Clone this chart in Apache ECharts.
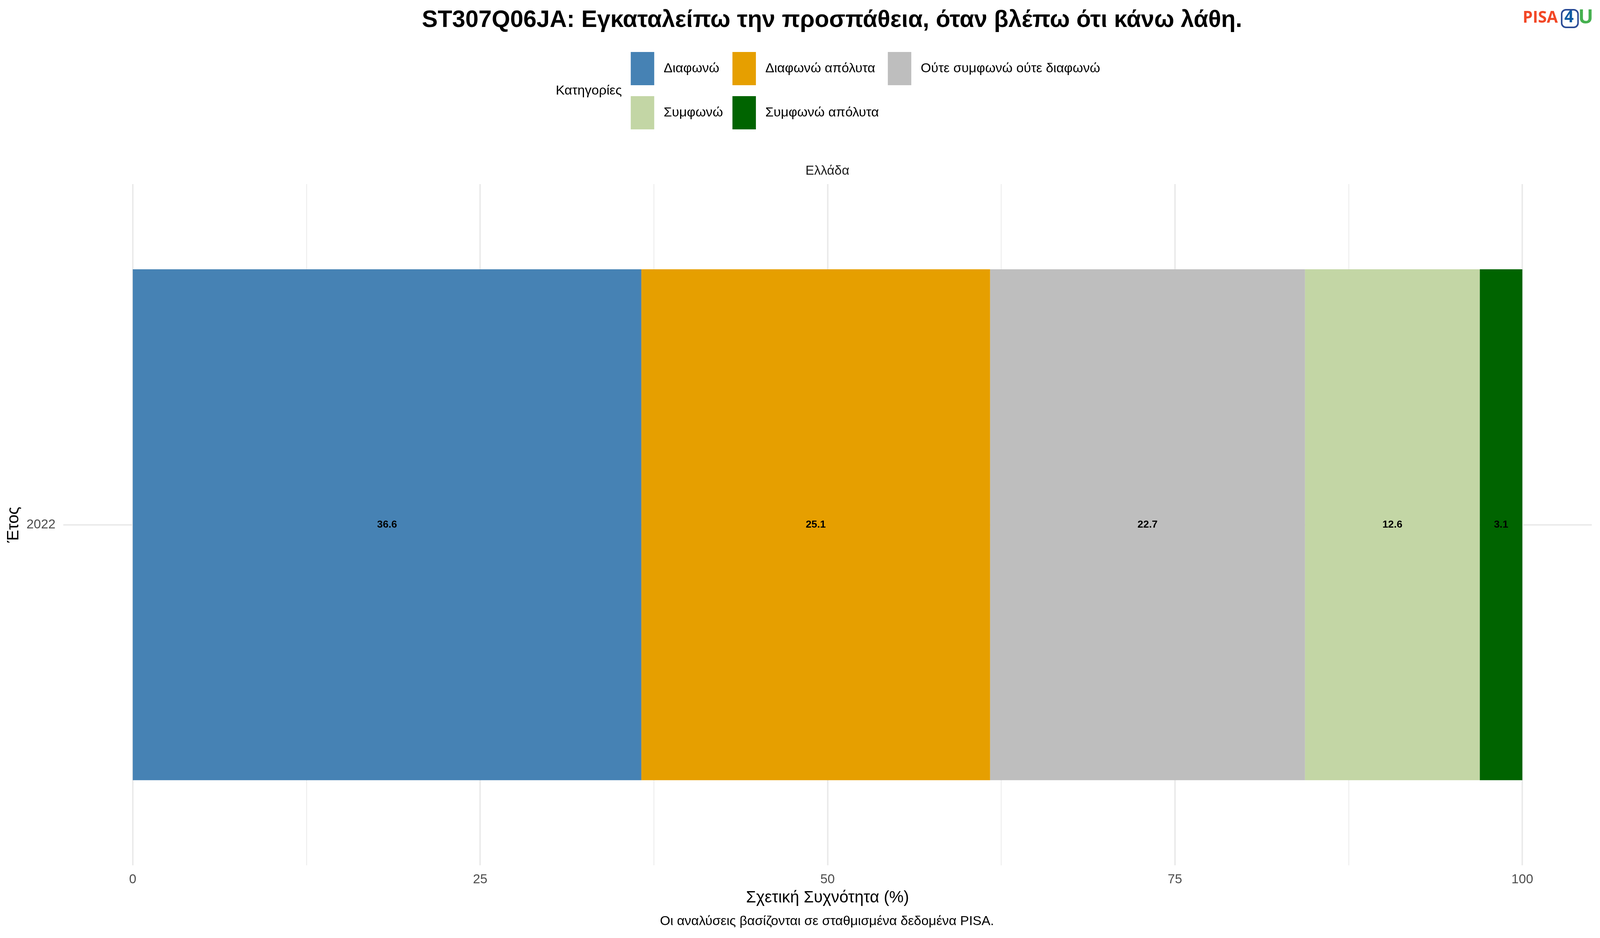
<!DOCTYPE html>
<html><head><meta charset="utf-8">
<style>html,body{margin:0;padding:0;background:#fff;overflow:hidden}</style>
<script src="https://cdn.jsdelivr.net/npm/echarts@6/dist/echarts.min.js"></script>
</head><body><div id="c"></div>
<script>
const years = ['2022'];
const categories = ['Διαφωνώ','Διαφωνώ απόλυτα','Ούτε συμφωνώ ούτε διαφωνώ','Συμφωνώ','Συμφωνώ απόλυτα'];
const values = [36.6, 25.1, 22.66, 12.58, 3.06];
const colors = ['#4682B4','#E69F00','#BEBEBE','#C3D6A5','#006400'];
const majorTicks = [0,25,50,75,100];
const minorTicks = [12.5,37.5,62.5,87.5];
const titleText = 'ST307Q06JA: Εγκαταλείπω την προσπάθεια, όταν βλέπω ότι κάνω λάθη.';
const legendTitle = 'Κατηγορίες';
const stripText = 'Ελλάδα';
const xName = 'Σχετική Συχνότητα (%)';
const yName = 'Έτος';
const captionText = 'Οι αναλύσεις βασίζονται σε σταθμισμένα δεδομένα PISA.';

// The layout below is measured on the 4500 px wide reference. The window that
// actually opens this page may be narrower (4096 px was observed), so every
// horizontal measure and font size is scaled to the real window width.
const W = Math.min(window.innerWidth || 4500, 4500);
const H = 2400;
const s = W / 4500;
const X = v => v * s;
const FF = '"Liberation Sans", Arial, sans-serif';
const legendSlots = [[1774,133],[2060,133],[2497,133],[1774,246],[2060,246]];

const box = document.getElementById('c');
box.style.width = W + 'px';
box.style.height = H + 'px';
const chart = echarts.init(box, null, {renderer:'canvas', width:W, height:H});
function t(text, x, y, size, color, weight){
  return {text, left:X(x), top:y, textAlign:'center', textVerticalAlign:'middle', padding:0,
    textStyle:{fontFamily:FF, fontSize:X(size), color, fontWeight:weight||'normal'}};
}
function logoText(text, cx, cy, size, fill){
  return {type:'text', x:X(cx), y:cy, style:{text, align:'center', verticalAlign:'middle',
    fontFamily:'"Open Sans"', fontWeight:'bold', fontSize:X(size), fill}};
}
chart.setOption({
  animation:false,
  backgroundColor:'#fff',
  title:[
    t(titleText, 2340, 52, 66.7, '#000', 'bold'),
    t(legendTitle, 1656, 233, 37.5, '#000'),
    t(stripText, 2327, 438, 36.67, '#1a1a1a'),
    t(captionText, 2326, 2358, 37.3, '#000')
  ],
  legend: categories.map((c,i)=>({
    data:[{name:c, icon:'rect'}], left:X(legendSlots[i][0]), top:legendSlots[i][1], padding:0,
    itemWidth:X(66), itemHeight:85, selectedMode:false,
    textStyle:{fontFamily:FF, fontSize:X(37.5), color:'#000', padding:[0,0,0,X(21)]}
  })),
  grid:{left:X(178), right:X(23), top:471, bottom:186, containLabel:false, outerBoundsMode:'none'},
  xAxis:[{
    type:'value', min:-5, max:105, position:'bottom',
    name:xName, nameLocation:'middle', nameGap:63,
    nameTextStyle:{fontFamily:FF, fontSize:X(45.8), color:'#000'},
    axisLine:{show:false},
    axisTick:{show:false, customValues:majorTicks},
    axisLabel:{customValues:majorTicks, margin:20, fontFamily:FF, fontSize:X(36.67), color:'#4D4D4D', showMinLabel:true, showMaxLabel:true},
    splitLine:{show:true, lineStyle:{color:'#EBEBEB', width:4}}
  },{
    type:'value', min:-5, max:105, position:'bottom',
    axisLine:{show:false},
    axisTick:{show:false, customValues:minorTicks},
    axisLabel:{show:false, customValues:minorTicks},
    splitLine:{show:true, lineStyle:{color:'#EBEBEB', width:2}}
  }],
  yAxis:{
    type:'category', data:years,
    name:yName, nameLocation:'middle', nameGap:X(108), nameRotate:90,
    nameTextStyle:{fontFamily:FF, fontSize:X(45.8), color:'#000'},
    axisLine:{show:false},
    axisTick:{show:false, alignWithLabel:true},
    axisLabel:{margin:X(22), fontFamily:FF, fontSize:X(36.67), color:'#4D4D4D'},
    splitLine:{show:true, alignWithLabel:true, lineStyle:{color:'#EBEBEB', width:4}}
  },
  series: categories.map((c,i)=>({
    name:c, type:'bar', stack:'total', xAxisIndex:0, barWidth:'75%',
    data:[values[i]],
    itemStyle:{color:colors[i]},
    label:{show:true, position:'inside', formatter:p=>p.value.toFixed(1),
      fontFamily:FF, fontSize:X(29), fontWeight:'bold', color:'#000'}
  })),
  graphic:[
    logoText('PISA', 4332, 46, 45, '#F24726'),
    {type:'rect', left:X(4390), top:23, shape:{width:X(46), height:45, r:11}, style:{fill:'#fff', stroke:'#2A4B96', lineWidth:4}},
    logoText('4', 4413, 45, 46, '#0B5AA2'),
    logoText('U', 4460, 45, 56, '#45B04F')
  ]
});
</script></body></html>
